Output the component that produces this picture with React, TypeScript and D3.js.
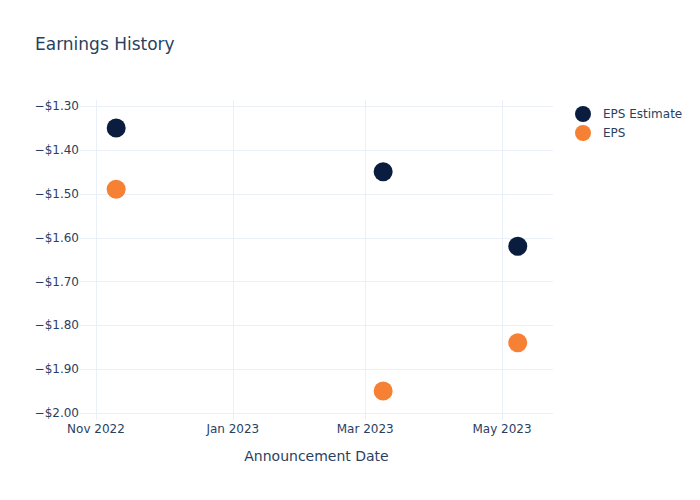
import React from "react";
import * as d3 from "d3";

const dates = ["2022-11-10", "2023-03-09", "2023-05-08"];
const epsEstimate = [-1.35, -1.45, -1.62];
const epsActual = [-1.49, -1.95, -1.84];
const yTicks = [-1.3, -1.4, -1.5, -1.6, -1.7, -1.8, -1.9, -2.0];
const xTicks = ["2022-11-01", "2023-01-01", "2023-03-01", "2023-05-01"];
const seriesNames = ["EPS Estimate", "EPS"];
const colors = ["#0b1d3f", "#f68135"];

const W = 700, H = 500;
const L = 80, R = 553, T = 100, B = 420;
const parse = d3.utcParse("%Y-%m-%d %H");
const pd = (s: string) => parse(s.length > 10 ? s : s + " 00")!;
const font = "'DejaVu Sans', sans-serif";
const textColor = "#2a3f5f";

export default function App() {
  const x = d3
    .scaleUtc()
    .domain([pd("2022-10-24 21"), pd("2023-05-23 17")])
    .range([L, R]);
  const y = d3.scaleLinear().domain([-2.016, -1.2863]).range([B, T]);
  const fmtY = (v: number) => "\u2212$" + Math.abs(v).toFixed(2);
  const fmtX = d3.utcFormat("%b %Y");
  const series = [epsEstimate, epsActual];

  return (
    <svg width={W} height={H} style={{ position: "absolute", left: 0, top: 0, background: "#fff" }} fontFamily={font}>
      <rect x={0} y={0} width={W} height={H} fill="#fff" />
      {xTicks.map((t) => {
        const px = Math.round(x(pd(t))) + 0.5;
        return <line key={"gx" + t} x1={px} x2={px} y1={T} y2={B} stroke="#ebf0f8" strokeWidth={1} />;
      })}
      {yTicks.map((t) => {
        const py = Math.round(y(t)) + 0.5;
        return <line key={"gy" + t} x1={L} x2={R} y1={py} y2={py} stroke="#ebf0f8" strokeWidth={1} />;
      })}
      {yTicks.map((t) => (
        <text key={"ty" + t} x={L - 1} y={y(t)} dy="0.35em" textAnchor="end" fontSize={12} fill={textColor}>
          {fmtY(t)}
        </text>
      ))}
      {xTicks.map((t) => (
        <text key={"tx" + t} x={x(pd(t))} y={433} textAnchor="middle" fontSize={12} fill={textColor}>
          {fmtX(pd(t))}
        </text>
      ))}
      {series.map((s, si) =>
        s.map((v, i) => (
          <circle key={si + "-" + i} cx={x(pd(dates[i]))} cy={y(v)} r={9.5} fill={colors[si]} />
        ))
      )}
      <text x={35} y={50} fontSize={17} fill={textColor}>Earnings History</text>
      <text x={(L + R) / 2} y={461} textAnchor="middle" fontSize={14} fill={textColor}>Announcement Date</text>
      {seriesNames.map((n, i) => (
        <g key={n} transform={`translate(583, ${114 + i * 19})`}>
          <circle cx={0} cy={0} r={8} fill={colors[i]} />
          <text x={20} y={0} dy="0.35em" fontSize={12} fill={textColor}>{n}</text>
        </g>
      ))}
    </svg>
  );
}
